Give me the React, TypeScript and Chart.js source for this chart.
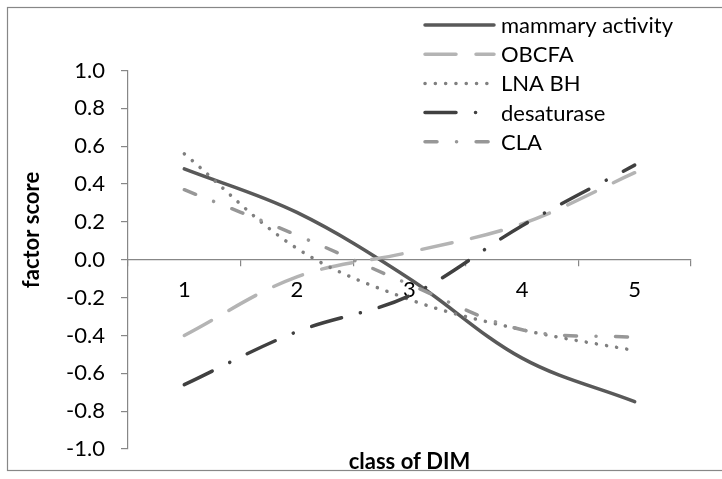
import { useEffect, useRef } from 'react';
import { Chart, registerables } from 'chart.js';

Chart.register(...registerables);

const categories = ['1', '2', '3', '4', '5'];
const seriesNames = ['mammary activity', 'OBCFA', 'LNA BH', 'desaturase', 'CLA'];
const mammaryActivity = [0.48, 0.25, -0.1, -0.52, -0.75];
const obcfa = [-0.4, -0.09, 0.04, 0.19, 0.46];
const lnaBh = [0.56, 0.06, -0.21, -0.37, -0.48];
const desaturase = [-0.66, -0.38, -0.19, 0.18, 0.5];
const cla = [0.37, 0.13, -0.13, -0.37, -0.41];
const yTickValues = [-1.0, -0.8, -0.6, -0.4, -0.2, 0.0, 0.2, 0.4, 0.6, 0.8, 1.0];
const xTitle = 'class of DIM';
const yTitle = 'factor score';

const FONT = 'Lato, "DejaVu Sans", sans-serif';
const AXIS = '#878787';

const backgroundPlugin = {
  id: 'excelFrame',
  beforeDraw(chart: any) {
    const { ctx, width, height } = chart;
    ctx.save();
    ctx.fillStyle = '#ffffff';
    ctx.fillRect(0, 0, width, height);
    ctx.strokeStyle = AXIS;
    ctx.lineWidth = 1.2;
    ctx.strokeRect(7.5, 7.5, width + 20, height - 8.5 - 7.5);
    ctx.restore();
  },
};

const yTitlePlugin = {
  id: 'yTitle',
  afterDraw(chart: any, _args: any, opts: any) {
    const ctx = chart.ctx;
    ctx.save();
    ctx.translate(opts.x, opts.y);
    ctx.rotate(-Math.PI / 2);
    ctx.fillStyle = '#000000';
    ctx.font = `bold 22px ${FONT}`;
    ctx.textAlign = 'center';
    ctx.textBaseline = 'middle';
    ctx.fillText(opts.text, 0, 0);
    ctx.restore();
  },
};

const legendPlugin = {
  id: 'excelLegend',
  afterDatasetsDraw(chart: any, _args: any, opts: any) {
    const ctx = chart.ctx;
    chart.data.datasets.forEach((ds: any, i: number) => {
      const y = opts.top + i * opts.rowHeight;
      ctx.save();
      ctx.strokeStyle = ds.borderColor;
      ctx.lineWidth = ds.borderWidth;
      ctx.lineCap = ds.borderCapStyle || 'butt';
      ctx.setLineDash(ds.borderDash || []);
      ctx.beginPath();
      ctx.moveTo(opts.lineStart, y);
      ctx.lineTo(opts.lineEnd, y);
      ctx.stroke();
      ctx.setLineDash([]);
      ctx.fillStyle = '#000000';
      ctx.font = `22px ${FONT}`;
      ctx.textAlign = 'left';
      ctx.textBaseline = 'middle';
      ctx.fillText(ds.label, opts.textX, y + 1);
      ctx.restore();
    });
  },
};

export default function App() {
  const canvasRef = useRef<HTMLCanvasElement | null>(null);

  useEffect(() => {
    const canvas = canvasRef.current;
    if (!canvas) return;
    const common = {
      borderWidth: 3.5,
      borderCapStyle: 'round',
      borderJoinStyle: 'round',
      pointRadius: 0,
      pointHoverRadius: 0,
      tension: 0.35,
      fill: false,
    };
    const chart = new Chart(canvas, {
      type: 'line',
      data: {
        labels: categories,
        datasets: [
          { ...common, label: seriesNames[0], data: mammaryActivity, borderColor: '#595959', borderDash: [], order: 4 },
          { ...common, label: seriesNames[1], data: obcfa, borderColor: '#b4b4b4', borderDash: [31, 20], order: 3 },
          { ...common, label: seriesNames[2], data: lnaBh, borderColor: '#7f7f7f', borderDash: [0.1, 10.2], order: 2 },
          { ...common, label: seriesNames[3], data: desaturase, borderColor: '#404040', borderDash: [31, 19.5, 0.1, 19.5], order: 1 },
          { ...common, label: seriesNames[4], data: cla, borderColor: '#979797', borderDash: [12, 19.5, 0.1, 19.5], order: 0 },
        ],
      } as any,
      options: {
        responsive: false,
        animation: false,
        layout: { padding: { left: 0, top: 70.5, right: 31, bottom: 0 } },
        plugins: {
          legend: { display: false },
          tooltip: { enabled: false },
          title: {
            display: true,
            position: 'bottom',
            fullSize: false,
            text: xTitle,
            color: '#000000',
            font: { family: FONT, size: 22, weight: 'bold', lineHeight: 1.2 },
            padding: { top: 0, bottom: 3.6 },
          },
          excelLegend: { top: 25, rowHeight: 29.2, lineStart: 425, lineEnd: 494, textX: 501 },
          yTitle: { text: yTitle, x: 32, y: 230 },
        } as any,
        scales: {
          x: {
            type: 'category',
            position: { y: 0 } as any,
            offset: true,
            grid: {
              offset: true,
              drawOnChartArea: false,
              drawTicks: true,
              tickLength: 6,
              color: AXIS,
              lineWidth: 1.2,
            },
            border: { display: true, color: AXIS, width: 1.2 },
            ticks: {
              color: '#000000',
              font: { family: FONT, size: 22 },
              padding: 11,
              maxRotation: 0,
              autoSkip: false,
            },
          },
          y: {
            type: 'linear',
            position: 'left',
            min: -1,
            max: 1,
            afterBuildTicks: (scale: any) => {
              scale.ticks = yTickValues.map((v) => ({ value: v }));
            },
            afterFit: (scale: any) => {
              scale.width = 128;
            },
            grid: {
              drawOnChartArea: false,
              drawTicks: true,
              tickLength: 7,
              color: AXIS,
              lineWidth: 1.2,
            },
            border: { display: true, color: AXIS, width: 1.2 },
            ticks: {
              color: '#000000',
              font: { family: FONT, size: 22 },
              padding: 16,
              callback: (v: any) => {
                const n = Number(v);
                return Math.abs(n) < 1e-9 ? '0.0' : n.toFixed(1);
              },
            },
          },
        },
      } as any,
      plugins: [backgroundPlugin, legendPlugin, yTitlePlugin] as any,
    });
    return () => {
      chart.destroy();
    };
  }, []);

  return (
    <div style={{ position: 'fixed', left: 0, top: 0, width: 722, height: 479, background: '#fff' }}>
      <canvas ref={canvasRef} width={722} height={479} style={{ display: 'block', width: 722, height: 479 }} />
    </div>
  );
}
